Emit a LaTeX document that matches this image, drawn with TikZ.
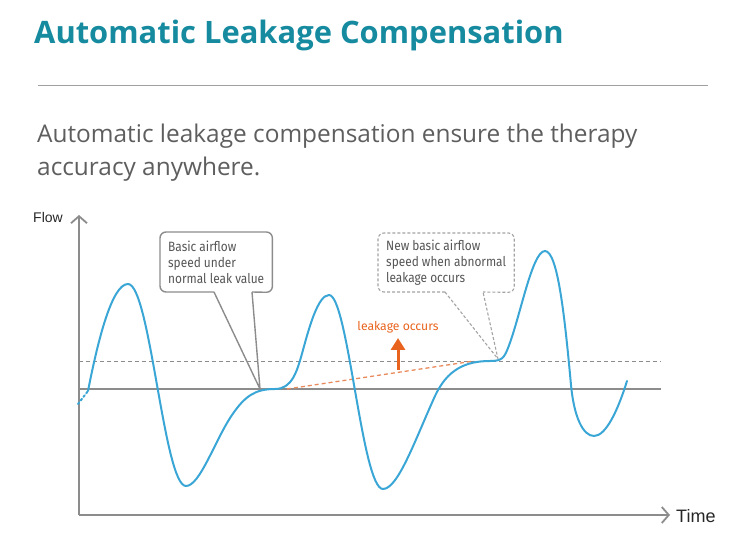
\documentclass[tikz,border=0pt]{standalone}
\usepackage{fontspec}
\setmainfont{Fira Sans}
\newfontfamily\headfont{Open Sans}
\newfontfamily\axisfont{Liberation Sans}
\newfontfamily\notefont{Fira Sans}[FakeStretch=0.88]
\usetikzlibrary{arrows.meta,positioning,calc}
\definecolor{cTitle}{HTML}{168BA0}
\definecolor{cText}{HTML}{555555}
\definecolor{cSub}{HTML}{5E5E5E}
\definecolor{cAxis}{HTML}{8C8C8C}
\definecolor{cRule}{HTML}{A0A0A0}
\definecolor{cFlow}{HTML}{3AA6D6}
\definecolor{cLeak}{HTML}{E8641E}
\definecolor{cLeakLine}{HTML}{E98A5C}

\begin{document}
\begin{tikzpicture}[x=1pt,y=-1pt,
  axisline/.style={cAxis,line width=1.8pt,-{Straight Barb[length=7pt,width=16pt,line width=1.8pt]}},
  flowline/.style={cFlow,line width=2pt,line cap=round},
  calloutbox/.style={inner xsep=8pt,inner ysep=0pt,align=left,text=cText,
    font=\notefont\fontsize{13.5}{16}\selectfont,anchor=north west},
  bubble/.style={cAxis,line width=1.4pt,line join=round},
  bubblenew/.style={cAxis!80,line width=1.1pt,dash pattern=on 3pt off 2pt,line join=round}]
  \useasboundingbox (0,0) rectangle (750,553);
  % heading
  \node[anchor=base west,inner sep=0,text=cTitle,font=\headfont\bfseries\fontsize{30.9}{36}\selectfont]
     (title) at (34,44) {Automatic Leakage Compensation};
  \coordinate (ruleL) at (38,86); \coordinate (ruleR) at (708,86);
  \draw[cRule,line width=1pt] (ruleL) -- (ruleR);
  \node[anchor=base west,inner sep=0,text=cSub,font=\headfont\fontsize{24.4}{28}\selectfont]
     (subA) at (37,143) {Automatic leakage compensation ensure the therapy};
  \node[anchor=base west,inner sep=0,text=cSub,font=\headfont\fontsize{24.4}{28}\selectfont]
     (subB) at (37,176) {accuracy anywhere.};
  % axes
  \coordinate (origin) at (79,515);
  \coordinate (ytop) at (79,215);
  \coordinate (xend) at (670,515);
  \draw[axisline] (origin) -- (ytop);
  \draw[axisline] (origin) -- (xend);
  \node[anchor=base west,inner sep=0,font=\axisfont\fontsize{14}{16}\selectfont,text=black!85] (flowlbl) at (33,223) {Flow};
  \node[anchor=base west,inner sep=0,font=\axisfont\fontsize{18}{20}\selectfont,text=black!85] (timelbl) at (676,522) {Time};
  \coordinate (baseL) at (79,389); \coordinate (baseR) at (661,389);
  \coordinate (dashL) at (79,361); \coordinate (dashR) at (661,361);
  \draw[cAxis,line width=1.8pt] (baseL) -- (baseR);
  \draw[cAxis,line width=0.9pt,dash pattern=on 4pt off 3pt] (dashL) -- (dashR);
  % leakage
  \coordinate (leakStart) at (287,389); \coordinate (leakEnd) at (474,361);
  \draw[cLeakLine,line width=1.3pt,dash pattern=on 4pt off 3pt] (leakStart) -- (leakEnd);
  \coordinate (arrowFoot) at (398,370); \coordinate (arrowTip) at (398,338);
  \draw[cLeak,line width=3pt,-{Triangle[length=12pt,width=14pt]}] (arrowFoot) -- (arrowTip);
  \node[text=cLeak,font=\fontsize{12.2}{15}\selectfont,inner sep=0] (leaklbl) at (398,327) {leakage occurs};
  % flow curve
  \draw[flowline,dash pattern=on 2pt off 2.5pt] (78,404) -- (88,391);
  \draw[flowline] (88,391) .. controls (98,340) and (112,284) .. (128,284)
    .. controls (150,284) and (164,486) .. (186,486)
    .. controls (200,486) and (215,440) .. (232,415)
    .. controls (245,396) and (255,389) .. (275,389)
    .. controls (292,389) and (297,372) .. (303,350)
    .. controls (309,328) and (318,295) .. (329,295)
    .. controls (348,295) and (362,489) .. (383,489)
    .. controls (398,489) and (415,440) .. (435,396)
    .. controls (447,370) and (465,361) .. (490,361)
    .. controls (502,361) and (504,358) .. (508,348)
    .. controls (520,318) and (532,251) .. (545,251)
    .. controls (558,251) and (565,320) .. (571,385)
    .. controls (574,417) and (583,436) .. (594,436)
    .. controls (606,436) and (618,410) .. (627,381);
  % callouts
  \node[calloutbox,minimum height=60pt] (boxBasic) at (160,232)
    {Basic airflow\\speed under\\normal leak value};
  \coordinate (basicL) at (214,292); \coordinate (basicR) at (252,292);
  \coordinate (tipBasic) at (260,389);
  \draw[bubble,rounded corners=6pt] (basicL) -| (boxBasic.north west) -| (boxBasic.south east) -- (basicR);
  \draw[bubble] (basicL) -- (tipBasic) -- (basicR);
  \node[calloutbox,minimum height=59pt] (boxNew) at (378,233)
    {New basic airflow\\speed when abnormal\\leakage occurs};
  \coordinate (newL) at (445,292); \coordinate (newR) at (483,292);
  \coordinate (tipNew) at (498,359);
  \draw[bubblenew,rounded corners=6pt] (newL) -| (boxNew.north west) -| (boxNew.south east) -- (newR);
  \draw[bubblenew] (newL) -- (tipNew) -- (newR);
\end{tikzpicture}
\end{document}
